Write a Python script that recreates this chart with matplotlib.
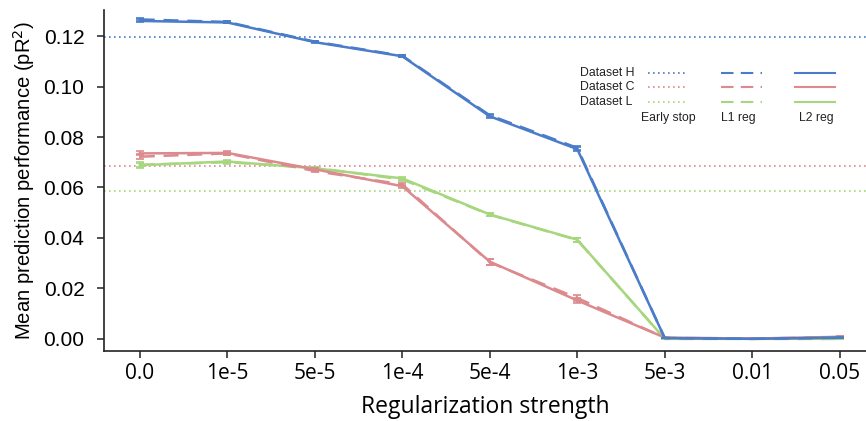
import matplotlib
matplotlib.use("Agg")
import matplotlib.pyplot as plt
from matplotlib.lines import Line2D
import numpy as np

categories = ["0.0", "1e-5", "5e-5", "1e-4", "5e-4", "1e-3", "5e-3", "0.01", "0.05"]

h_l1 = [0.1266, 0.1256, 0.1178, 0.1122, 0.0886, 0.0757, 0.0003, 0.0000, 0.0004]
h_l2 = [0.1260, 0.1254, 0.1176, 0.1120, 0.0882, 0.0752, 0.0003, 0.0000, 0.0005]
h_l1_err = [0.0006, 0.0004, 0.0003, 0.0004, 0.0007, 0.0009, 0.0001, 0.0001, 0.0001]
h_l2_err = [0.0006, 0.0004, 0.0003, 0.0004, 0.0007, 0.0009, 0.0001, 0.0001, 0.0001]
h_early = 0.1198

c_l1 = [0.0722, 0.0735, 0.0665, 0.0612, 0.0303, 0.0162, 0.0004, 0.0001, 0.0007]
c_l2 = [0.0735, 0.0737, 0.0672, 0.0605, 0.0306, 0.0152, 0.0005, 0.0001, 0.0008]
c_l1_err = [0.0010, 0.0007, 0.0004, 0.0006, 0.0012, 0.0011, 0.0001, 0.0001, 0.0003]
c_l2_err = [0.0008, 0.0007, 0.0004, 0.0006, 0.0012, 0.0011, 0.0001, 0.0001, 0.0003]
c_early = 0.0686

l_l1 = [0.0690, 0.0700, 0.0678, 0.0632, 0.0492, 0.0392, 0.0000, 0.0000, 0.0000]
l_l2 = [0.0688, 0.0703, 0.0676, 0.0636, 0.0493, 0.0393, 0.0000, 0.0000, 0.0000]
l_l1_err = [0.0010, 0.0006, 0.0004, 0.0005, 0.0006, 0.0008, 0.0001, 0.0001, 0.0001]
l_l2_err = [0.0010, 0.0006, 0.0004, 0.0005, 0.0006, 0.0008, 0.0001, 0.0001, 0.0001]
l_early = 0.0584

dataset_names = ["Dataset H", "Dataset C", "Dataset L"]
method_names = ["Early stop", "L1 reg", "L2 reg"]

BLUE = "#4a7cc9"
RED = "#dc8a8e"
GREEN = "#a6d67e"

fig = plt.figure(figsize=(8.66, 4.21), dpi=100)
ax = fig.add_axes([0.120, 0.167, 0.880, 0.809])

x = np.arange(len(categories))

series = [
    (BLUE, h_l1, h_l1_err, h_l2, h_l2_err, h_early),
    (RED, c_l1, c_l1_err, c_l2, c_l2_err, c_early),
    (GREEN, l_l1, l_l1_err, l_l2, l_l2_err, l_early),
]

for order, (col, l1, l1e, l2, l2e, early) in [(0, series[2]), (1, series[1]), (2, series[0])]:
    ax.axhline(early, color=col, ls=(0, (1, 2)), lw=1.2, zorder=1)
    ax.errorbar(x, l1, yerr=l1e, color=col, ls=(0, (6, 3.5)), lw=1.8,
                capsize=3, elinewidth=1.2, capthick=1.2, zorder=2 + order)
    ax.errorbar(x, l2, yerr=l2e, color=col, ls="-", lw=1.8,
                capsize=3, elinewidth=1.2, capthick=1.2, zorder=2 + order)

ax.set_xlim(-0.41, 8.3)
ax.set_ylim(-0.0047, 0.1303)
ax.set_xticks(x)
ax.set_xticklabels(categories, fontfamily="Open Sans", fontsize=15)
ax.set_yticks(np.arange(0, 0.121, 0.02))
ax.set_yticklabels(["%.2f" % v for v in np.arange(0, 0.121, 0.02)],
                   fontfamily="Liberation Sans", fontsize=15)
ax.set_xlabel("Regularization strength", fontfamily="Open Sans", fontsize=16.5, labelpad=8)
ax.set_ylabel("Mean prediction performance (pR$^2$)", fontfamily="Liberation Sans",
              fontsize=14.6, labelpad=5)

for s in ["top", "right"]:
    ax.spines[s].set_visible(False)
for s in ["left", "bottom"]:
    ax.spines[s].set_linewidth(1.2)
    ax.spines[s].set_color("#222222")
ax.tick_params(axis="both", length=5, width=1.1, color="#222222")
ax.tick_params(axis="y", pad=9)
ax.tick_params(axis="x", pad=4)

# custom legend grid
W, H = 866, 421
def fx(px):
    return px / W
def fy(py):
    return 1 - py / H

rows_y = [72.5, 87, 102]
cols = [(648, 686), (721, 762), (795, 835)]
label_x = [668, 738, 816]
styles = [(0, (1, 2)), (0, (6, 3.5)), "-"]
colors = [BLUE, RED, GREEN]
for r, (name, col) in enumerate(zip(dataset_names, colors)):
    fig.text(fx(580), fy(rows_y[r]), name, fontfamily="Liberation Sans", fontsize=8.8,
             ha="left", va="center", color="#222222")
    for c, (x0, x1) in enumerate(cols):
        fig.add_artist(Line2D([fx(x0), fx(x1)], [fy(rows_y[r]), fy(rows_y[r])],
                              color=col, ls=styles[c], lw=1.5 if c else 1.2,
                              transform=fig.transFigure))
for c, name in enumerate(method_names):
    fig.text(fx(label_x[c]), fy(118), name, fontfamily="Liberation Sans", fontsize=8.8,
             ha="center", va="center", color="#222222")

fig.savefig("out.png", dpi=100)
